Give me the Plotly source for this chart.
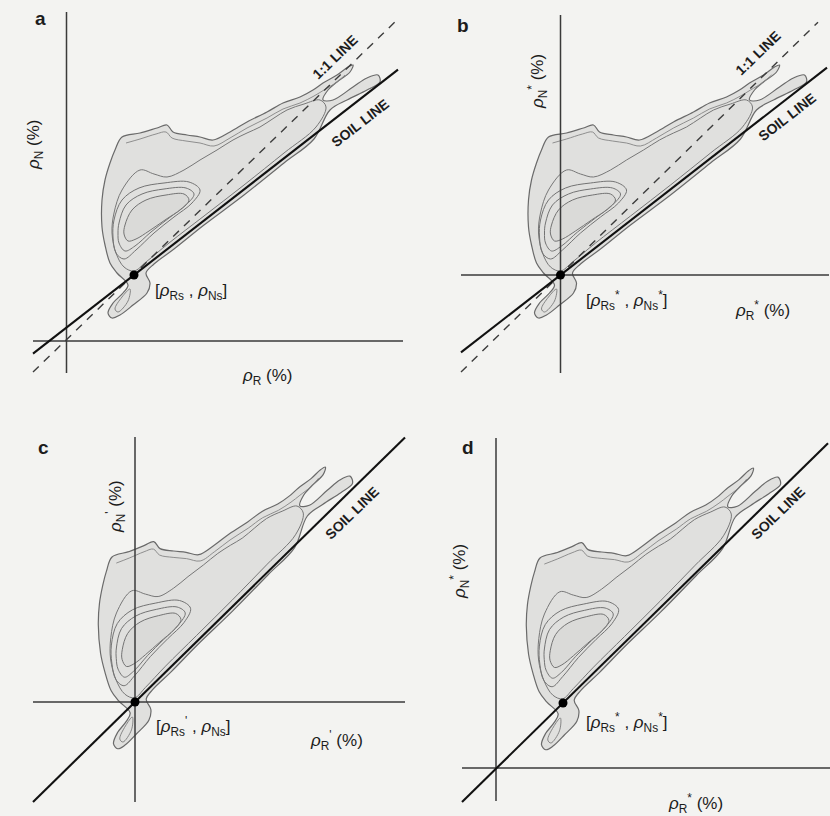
import plotly.graph_objects as go

# ---------------- data ----------------
panel_names = ["a", "b", "c", "d"]

# soil point [rho_Rs, rho_Ns] in each panel's own axes (axis origin = 0,0)
soil_x = [67.5, 0.0, 0.0, 67.0]
soil_y = [66.0, 0.0, 0.0, 65.0]
soil_slope = [0.778, 0.778, 0.98, 0.98]
soil_x_extent = [[-33.5, 331.5], [-99.5, 266.5], [-102.0, 270.0], [-34.0, 332.0]]

# 1:1 line (panels a and b only)
one_slope = [0.967, 0.98, None, None]
one_icpt = [1.4, 0.5, None, None]
one_x_extent = [[-33.5, 328.5], [-99.5, 257.5], None, None]

# drawn extents of the rho_R = 0 / rho_N = 0 axis lines
axis_x_extent = [[-33.5, 336.5], [-99.5, 268.5], [-102.0, 270.0], [-34.0, 334.0]]
axis_y_extent = [[-32.0, 329.0], [-98.0, 260.0], [-100.0, 265.0], [-33.0, 330.0]]

# linear distortion of the density cloud in each panel (relative to soil point)
cloud_matrix = [
    [[1.0, 0.0], [0.0, 1.0]],
    [[1.0, 0.0], [0.0, 1.0]],
    [[0.95, -0.084], [0.06, 1.056]],
    [[0.95, -0.084], [0.06, 1.056]],
]

# density contours, read relative to the soil point (panel a)
outer_dx = [-12, 6, 23, 33, 39, 53, 66, 79, 96, 113, 133, 149, 166, 179, 189, 203, 214, 219,
            216, 203, 194, 189, 199, 219, 233, 244, 246, 233, 213, 196, 180, 150, 110, 70, 40,
            20, 12, 16, 13, -1, -14, -22, -26, -21, -11, -6, -17, -24, -29, -32, -32, -29, -24,
            -19, -12]
outer_dy = [138, 142, 147, 150, 143, 140, 138, 135, 143, 153, 163, 172, 178, 185, 192, 200, 208,
            210, 203, 193, 185, 175, 175, 188, 197, 200, 193, 185, 175, 165, 136, 112, 80, 50, 26,
            11, 2, -8, -18, -30, -40, -43, -38, -28, -18, -10, 2, 12, 30, 48, 75, 95, 112, 125, 138]

second_dx = [-8, 6, 22, 32, 38, 52, 66, 80, 96, 113, 133, 149, 166, 180, 190, 203, 211]
second_dy = [132, 136, 141, 143, 137, 134, 132, 129, 137, 147, 157, 166, 172, 179, 185, 193, 200]

c2_dx = [6, 20, 33, 50, 66, 83, 99, 113, 126, 140, 153, 170, 186, 192, 182, 150, 110, 70, 35, 12,
         0, -10, -18, -22, -20, -12, 6]
c2_dy = [105, 101, 98, 105, 115, 125, 135, 142, 148, 157, 165, 171, 175, 168, 148, 122, 90, 59, 32,
         13, 4, 8, 22, 42, 62, 85, 105]

oval1_dx = [-20, -12, 5, 30, 55, 66, 58, 40, 20, 2, -10, -18, -21, -20]
oval1_dy = [55, 75, 87, 92, 93, 85, 72, 58, 42, 25, 16, 22, 38, 55]
oval2_dx = [-15, -8, 8, 30, 52, 60, 52, 35, 17, 1, -9, -15, -16, -15]
oval2_dy = [52, 70, 81, 86, 87, 81, 70, 57, 43, 29, 24, 32, 42, 52]
oval3_dx = [-9, -2, 12, 32, 50, 55, 47, 31, 15, 2, -6, -10, -9]
oval3_dy = [50, 65, 75, 80, 81, 75, 66, 55, 44, 36, 34, 41, 50]

lobe_dx = [-4, -12, -19, -16, -6, -4]
lobe_dy = [-14, -22, -34, -37, -26, -14]

# text
y_titles = ["<i>ρ</i><sub>N</sub> (%)", "<i>ρ</i><sub>N</sub><sup>*</sup> (%)",
            "<i>ρ</i><sub>N</sub><sup>'</sup> (%)", "<i>ρ</i><sub>N</sub><sup>*</sup> (%)"]
x_titles = ["<i>ρ</i><sub>R</sub> (%)", "<i>ρ</i><sub>R</sub><sup>*</sup> (%)",
            "<i>ρ</i><sub>R</sub><sup>'</sup> (%)", "<i>ρ</i><sub>R</sub><sup>*</sup> (%)"]
point_labels = ["[<i>ρ</i><sub>Rs</sub> , <i>ρ</i><sub>Ns</sub>]",
                "[<i>ρ</i><sub>Rs</sub><sup>*</sup> , <i>ρ</i><sub>Ns</sub><sup>*</sup>]",
                "[<i>ρ</i><sub>Rs</sub><sup>'</sup> , <i>ρ</i><sub>Ns</sub>]",
                "[<i>ρ</i><sub>Rs</sub><sup>*</sup> , <i>ρ</i><sub>Ns</sub><sup>*</sup>]"]

# ---------------- layout helpers ----------------
W, H = 830, 816
# panel boxes in pixels: left, right, top, bottom ; axis origin in pixels
boxes = [(0, 415, 0, 400), (415, 830, 0, 400), (0, 415, 400, 816), (415, 830, 400, 816)]
origins = [(66.5, 341), (560.5, 275), (135, 702), (496, 768)]

# annotation positions (panel axes coords)
letter_pos = [(-26.5, 323), (-97.5, 250), (-92, 255), (-28, 321)]
ytitle_pos = [(-31.5, 196), (-23.5, 193), (-20, 195), (-37, 196)]
xtitle_pos = [(200.5, -36), (201.5, -35), (201, -38), (199, -35)]
plabel_pos = [(124.5, 49), (66.5, -25), (58, -24), (131, 46)]
one_text_pos = [(268.5, 284), (197.5, 222), None, None]
soil_text_pos = [(293.5, 218), (226.5, 158), (217, 189), (282, 255)]
soil_text_angle = [-38, -38, -44, -44]

FONT = "Liberation Sans, Arial, sans-serif"
INK = "#1c1c1c"

fig = go.Figure()
annotations = []
layout_axes = {}


def tf(dx, dy, k):
    m = cloud_matrix[k]
    xs = [soil_x[k] + m[0][0] * u + m[0][1] * v for u, v in zip(dx, dy)]
    ys = [soil_y[k] + m[1][0] * u + m[1][1] * v for u, v in zip(dx, dy)]
    return xs, ys


for k, name in enumerate(panel_names):
    sfx = "" if k == 0 else str(k + 1)
    xa, ya = "x" + sfx, "y" + sfx
    l, r, t, b = boxes[k]
    ox, oy = origins[k]
    layout_axes["xaxis" + sfx] = dict(domain=[l / W, r / W], range=[l - ox, r - ox],
                                      visible=False, anchor=ya, fixedrange=True)
    layout_axes["yaxis" + sfx] = dict(domain=[1 - b / H, 1 - t / H], range=[oy - b, oy - t],
                                      visible=False, anchor=xa, fixedrange=True)

    # density cloud
    xs, ys = tf(outer_dx, outer_dy, k)
    fig.add_trace(go.Scatter(x=xs, y=ys, xaxis=xa, yaxis=ya, mode="lines", fill="toself",
                             fillcolor="#e0e0de", line=dict(color="#6a6a6a", width=1.2),
                             line_shape="spline", hoverinfo="skip"))
    xs, ys = tf(second_dx, second_dy, k)
    fig.add_trace(go.Scatter(x=xs, y=ys, xaxis=xa, yaxis=ya, mode="lines",
                             line=dict(color="#858585", width=0.9), line_shape="spline",
                             hoverinfo="skip"))
    xs, ys = tf(c2_dx, c2_dy, k)
    fig.add_trace(go.Scatter(x=xs, y=ys, xaxis=xa, yaxis=ya, mode="lines",
                             line=dict(color="#777777", width=1), line_shape="spline",
                             hoverinfo="skip"))
    for cx, cy, fc in [(oval1_dx, oval1_dy, None), (oval2_dx, oval2_dy, None),
                       (oval3_dx, oval3_dy, "#dadad8")]:
        xs, ys = tf(cx, cy, k)
        fig.add_trace(go.Scatter(x=xs, y=ys, xaxis=xa, yaxis=ya, mode="lines",
                                 fill="toself" if fc else None, fillcolor=fc,
                                 line=dict(color="#737373", width=1), line_shape="spline",
                                 hoverinfo="skip"))
    xs, ys = tf(lobe_dx, lobe_dy, k)
    fig.add_trace(go.Scatter(x=xs, y=ys, xaxis=xa, yaxis=ya, mode="lines",
                             line=dict(color="#7a7a7a", width=0.9), line_shape="spline",
                             hoverinfo="skip"))

    # axes (rho_R = 0 and rho_N = 0 lines)
    fig.add_trace(go.Scatter(x=axis_x_extent[k], y=[0, 0], xaxis=xa, yaxis=ya, mode="lines",
                             line=dict(color="#3a3a3a", width=1.5), hoverinfo="skip"))
    fig.add_trace(go.Scatter(x=[0, 0], y=axis_y_extent[k], xaxis=xa, yaxis=ya, mode="lines",
                             line=dict(color="#3a3a3a", width=1.5), hoverinfo="skip"))

    # 1:1 line
    if one_slope[k] is not None:
        ex = one_x_extent[k]
        fig.add_trace(go.Scatter(x=ex, y=[one_icpt[k] + one_slope[k] * v for v in ex],
                                 xaxis=xa, yaxis=ya, mode="lines",
                                 line=dict(color="#3c3c3c", width=1.4, dash="8px,7px"),
                                 hoverinfo="skip"))
        annotations.append(dict(x=one_text_pos[k][0], y=one_text_pos[k][1], xref=xa, yref=ya,
                                text="<b>1:1 LINE</b>", showarrow=False, textangle=-44,
                                font=dict(family=FONT, size=14, color=INK)))

    # soil line
    ex = soil_x_extent[k]
    fig.add_trace(go.Scatter(x=ex, y=[soil_y[k] + soil_slope[k] * (v - soil_x[k]) for v in ex],
                             xaxis=xa, yaxis=ya, mode="lines",
                             line=dict(color="#111111", width=2.1), hoverinfo="skip"))
    annotations.append(dict(x=soil_text_pos[k][0], y=soil_text_pos[k][1], xref=xa, yref=ya,
                            text="<b>SOIL LINE</b>", showarrow=False,
                            textangle=soil_text_angle[k],
                            font=dict(family=FONT, size=14, color=INK)))

    # soil point
    fig.add_trace(go.Scatter(x=[soil_x[k]], y=[soil_y[k]], xaxis=xa, yaxis=ya, mode="markers",
                             marker=dict(color="#000000", size=9), hoverinfo="skip"))

    # texts
    annotations.append(dict(x=letter_pos[k][0], y=letter_pos[k][1], xref=xa, yref=ya,
                            text="<b>%s</b>" % name, showarrow=False,
                            font=dict(family=FONT, size=19, color=INK)))
    annotations.append(dict(x=ytitle_pos[k][0], y=ytitle_pos[k][1], xref=xa, yref=ya,
                            text=y_titles[k], showarrow=False, textangle=-90,
                            font=dict(family=FONT, size=17, color=INK)))
    annotations.append(dict(x=xtitle_pos[k][0], y=xtitle_pos[k][1], xref=xa, yref=ya,
                            text=x_titles[k], showarrow=False,
                            font=dict(family=FONT, size=17, color=INK)))
    annotations.append(dict(x=plabel_pos[k][0], y=plabel_pos[k][1], xref=xa, yref=ya,
                            text=point_labels[k], showarrow=False,
                            font=dict(family=FONT, size=17, color=INK)))

fig.update_layout(width=W, height=H, margin=dict(l=0, r=0, t=0, b=0),
                  paper_bgcolor="#f3f3f1", plot_bgcolor="rgba(0,0,0,0)", showlegend=False,
                  annotations=annotations, **layout_axes)

fig.write_html("out.html")
